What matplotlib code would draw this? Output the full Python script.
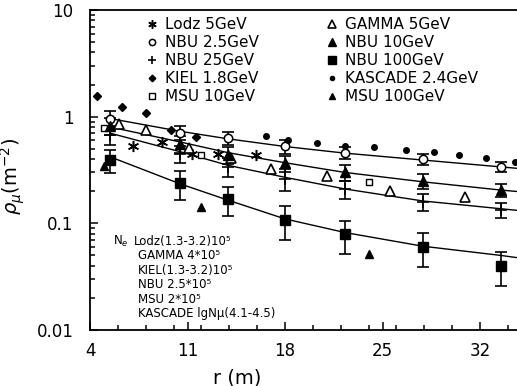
import matplotlib
matplotlib.use('Agg')
import matplotlib.pyplot as plt
from matplotlib.ticker import FixedLocator, NullFormatter

plt.rcParams['font.family'] = ['DejaVu Sans']
plt.rcParams['mathtext.fontset'] = 'dejavusans'

# ---- data ----
lodz_r = [7.1, 9.2, 11.3, 13.2, 15.9]
lodz_rho = [0.53, 0.58, 0.45, 0.45, 0.44]

gamma_r = [6.1, 8.0, 11.1, 14.1, 17.0, 21.0, 25.5, 30.9]
gamma_rho = [0.85, 0.75, 0.51, 0.41, 0.32, 0.28, 0.20, 0.175]

kiel_r = [4.5, 6.3, 8.0, 9.85, 11.6]
kiel_rho = [1.56, 1.24, 1.08, 0.75, 0.65]

kascade_r = [16.6, 18.2, 20.3, 22.3, 24.4, 26.7, 28.7, 30.5, 32.4, 34.5]
kascade_rho = [0.66, 0.60, 0.57, 0.53, 0.515, 0.485, 0.463, 0.437, 0.406, 0.378]

msu10_r = [5.0, 12.0, 24.0]
msu10_rho = [0.79, 0.44, 0.245]

msu100_r = [5.0, 12.0, 24.0]
msu100_rho = [0.347, 0.141, 0.052]

nbu_r = [5.45, 10.45, 13.9, 18.0, 22.3, 27.9, 33.5]
nbu25_rho = [0.96, 0.71, 0.63, 0.53, 0.46, 0.40, 0.34]
nbu25_err = [0.16, 0.11, 0.09, 0.08, 0.06, 0.05, 0.035]
nbu10_rho = [0.82, 0.56, 0.44, 0.365, 0.30, 0.25, 0.205]
nbu10_err = [0.15, 0.10, 0.08, 0.06, 0.05, 0.04, 0.03]
nbu250_rho = [0.68, 0.45, 0.34, 0.26, 0.21, 0.16, 0.133]
nbu250_err = [0.14, 0.08, 0.07, 0.06, 0.04, 0.03, 0.022]
nbu1000_rho = [0.39, 0.237, 0.169, 0.107, 0.079, 0.060, 0.040]
nbu1000_err = [0.095, 0.07, 0.052, 0.037, 0.027, 0.021, 0.014]

# fitted curves
fit_r = [5.45, 10.45, 13.9, 18.0, 22.3, 27.9, 33.5, 35.0]
fit_25 = [0.96, 0.73, 0.62, 0.525, 0.455, 0.392, 0.338, 0.325]
fit_10 = [0.80, 0.58, 0.46, 0.37, 0.30, 0.245, 0.205, 0.197]
fit_250 = [0.70, 0.47, 0.35, 0.27, 0.21, 0.162, 0.137, 0.131]
fit_1000 = [0.42, 0.235, 0.165, 0.110, 0.082, 0.061, 0.050, 0.047]

info_lines = ['Lodz(1.3-3.2)10⁵', 'GAMMA 4*10⁵', 'KIEL(1.3-3.2)10⁵',
              'NBU 2.5*10⁵', 'MSU 2*10⁵', 'KASCADE lgNμ(4.1-4.5)']

fig = plt.figure(figsize=(5.17, 3.86), dpi=100)
ax = fig.add_axes([90/517, 1 - 330/386, 1 - 90/517, 320/386])

for f in [fit_25, fit_10, fit_250, fit_1000]:
    ax.plot(fit_r, f, color='black', lw=1.0, zorder=1)

for rho, err in [(nbu25_rho, nbu25_err), (nbu10_rho, nbu10_err),
                 (nbu250_rho, nbu250_err), (nbu1000_rho, nbu1000_err)]:
    ax.errorbar(nbu_r, rho, yerr=err, fmt='none', ecolor='black',
                elinewidth=1.2, capsize=4, capthick=1.2, zorder=2)

k = dict(linestyle='none', color='black', zorder=3)
h_lodz, = ax.plot(lodz_r, lodz_rho, marker=(6, 2, 0), ms=8, mew=1.1, label='Lodz 5GeV', **k)
h_nbu25, = ax.plot(nbu_r, nbu25_rho, marker='o', ms=6, mfc='white', mew=1.1, label='NBU 2.5GeV', **k)
h_nbu250, = ax.plot(nbu_r, nbu250_rho, marker='+', ms=8, mew=1.2, label='NBU 25GeV', **k)
h_kiel, = ax.plot(kiel_r, kiel_rho, marker='D', ms=4.5, label='KIEL 1.8GeV', **k)
h_msu10, = ax.plot(msu10_r, msu10_rho, marker='s', ms=5, mfc='white', mew=1.0, label='MSU 10GeV', **k)
h_gamma, = ax.plot(gamma_r, gamma_rho, marker='^', ms=7, mfc='white', mew=1.2, label='GAMMA 5GeV', **k)
h_nbu10, = ax.plot(nbu_r, nbu10_rho, marker='^', ms=7.5, label='NBU 10GeV', **k)
h_nbu1000, = ax.plot(nbu_r, nbu1000_rho, marker='s', ms=7.5, label='NBU 100GeV', **k)
h_kas, = ax.plot(kascade_r, kascade_rho, marker='o', ms=4, label='KASCADE 2.4GeV', **k)
h_msu100, = ax.plot(msu100_r, msu100_rho, marker='^', ms=5.5, label='MSU 100GeV', **k)

ax.legend(handles=[h_lodz, h_nbu25, h_nbu250, h_kiel, h_msu10,
                   h_gamma, h_nbu10, h_nbu1000, h_kas, h_msu100],
          ncol=2, frameon=False, fontsize=11, numpoints=1, markerscale=0.75,
          loc='upper left', bbox_to_anchor=(0.131, 0.978),
          handlelength=0.8, handletextpad=0.45, columnspacing=4.4,
          labelspacing=0.2, borderaxespad=0, borderpad=0)

ax.set_yscale('log')
ax.set_ylim(0.01, 10)
ax.set_xlim(4, 34.65)
ax.set_yticks([0.01, 0.1, 1, 10])
ax.set_yticklabels(['0.01', '0.1', '1', '10'])
ax.set_xticks([4, 11, 18, 25, 32])
ax.xaxis.set_minor_locator(FixedLocator(list(range(6, 35, 2))))
ax.tick_params(which='both', direction='in', labelsize=12, width=1.1)
ax.tick_params(which='major', length=6)
ax.tick_params(which='minor', length=3.5)
ax.tick_params(axis='x', pad=9)
ax.tick_params(axis='y', pad=12)
ax.yaxis.set_minor_formatter(NullFormatter())
ax.spines['right'].set_visible(False)
for s in ['left', 'bottom', 'top']:
    ax.spines[s].set_linewidth(1.3)

ax.set_xlabel('r (m)', fontsize=14)
ax.xaxis.set_label_coords((237 - 90) / 427, -38 / 320)
ax.set_ylabel(r'$\rho_\mu$(m$^{-2}$)', fontsize=14)
ax.yaxis.set_label_coords(-63 / 427, 0.48)

# Ne info block
ax.text(0.054, 0.278, 'N$_e$', transform=ax.transAxes, fontsize=8.5,
        va='center', ha='left')
for i, t in enumerate(info_lines):
    ax.text(0.103 if i == 0 else 0.112, 0.278 - i * 0.0455, t,
            transform=ax.transAxes, fontsize=8.5, va='center', ha='left')

fig.savefig('out.png', dpi=100)
